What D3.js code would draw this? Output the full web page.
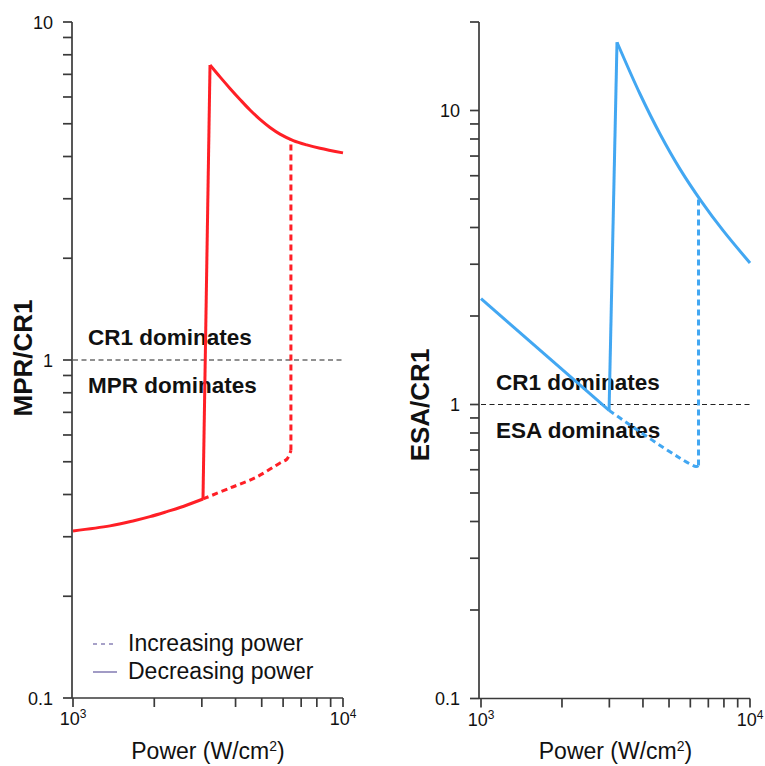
<!DOCTYPE html>
<html><head><meta charset="utf-8">
<script src="https://cdn.jsdelivr.net/npm/d3@7/dist/d3.min.js"></script>
<style>body{margin:0;background:#fff}svg{display:block}text{font-family:"Liberation Sans",Arial,Helvetica,sans-serif}</style>
</head><body>
<svg id="c" width="765" height="766"></svg>
<script>
// ---- data (power in W/cm², ratio) ----
const mprDecLow = [[1000,0.312],[1371,0.323],[1668,0.334],[1928,0.344],[2228,0.356],[2489,0.366],[3030,0.388]];
const mprDecHigh = [[3217,7.46],[3503,6.88],[3815,6.36],[4155,5.90],[4524,5.49],[4927,5.15],[5365,4.875],[5843,4.66],[6544,4.46],[7337,4.33],[8218,4.23],[10000,4.10]];
const mprInc = [[3030,0.388],[3811,0.418],[4797,0.451],[5845,0.496],[6200,0.509],[6413,0.54],[6413,4.49]];
const esaDecLow = [[1000,2.29],[2993,0.955]];
const esaDecHigh = [[3203,17.07],[3901,11.38],[4629,8.32],[5494,6.32],[6574,4.93],[7935,3.91],[10000,3.03]];
const esaInc = [[2993,0.955],[6300,0.615],[6436,0.62],[6436,5.0]];
const xTicks = [1000,2000,3000,4000,5000,6000,7000,8000,9000,10000];
const xLabels = [[1000,"10","3"],[10000,"10","4"]];
const yTicks = [0.1,0.2,0.3,0.4,0.5,0.6,0.7,0.8,0.9,1,2,3,4,5,6,7,8,9,10,20];
const yLabels = [0.1,1,10];
const legendItems = [["Increasing power",true],["Decreasing power",false]];

const svg = d3.select("#c");
const AXC = "#3a3a3a";
const TK = 9;

function panel(o){
  const x = d3.scaleLog().domain([1000,10000]).range([o.x0,o.x1]);
  const y = d3.scaleLog().domain(o.ydom).range([o.yb,o.yt]);
  const g = svg.append("g");
  // x axis
  g.append("line").attr("x1",o.ax).attr("x2",x(10000)).attr("y1",o.yb).attr("y2",o.yb)
    .attr("stroke",AXC).attr("stroke-width",1.7);
  g.selectAll(".xt").data(xTicks).join("line").attr("class","xt")
    .attr("x1",d=>x(d)).attr("x2",d=>x(d)).attr("y1",o.yb).attr("y2",o.yb+TK)
    .attr("stroke",AXC).attr("stroke-width",1.7);
  xLabels.forEach(([v,b,e])=>{
    const t = g.append("text").attr("x",x(v)).attr("y",o.yb+27).attr("text-anchor","middle")
      .attr("font-size",18).attr("fill","#111");
    t.append("tspan").text(b);
    t.append("tspan").attr("dy",-7).attr("font-size",12).text(e);
  });
  // y axis
  g.append("line").attr("x1",o.ax).attr("x2",o.ax).attr("y1",o.yb).attr("y2",y(o.ydom[1]))
    .attr("stroke",AXC).attr("stroke-width",1.7);
  g.selectAll(".yt").data(yTicks.filter(v=>v<=o.ydom[1])).join("line").attr("class","yt")
    .attr("x1",o.ax-TK).attr("x2",o.ax).attr("y1",d=>y(d)).attr("y2",d=>y(d))
    .attr("stroke",AXC).attr("stroke-width",1.7);
  yLabels.forEach(v=>{
    g.append("text").attr("x",o.ax-19).attr("y",y(v)+6.5).attr("text-anchor","end")
      .attr("font-size",18).attr("fill","#111").text(v);
  });
  // titles
  const xt = g.append("text").attr("x",(o.x0+o.x1)/2).attr("y",759).attr("text-anchor","middle")
    .attr("font-size",23).attr("fill","#111");
  xt.append("tspan").text("Power (W/cm");
  xt.append("tspan").attr("dy",-8).attr("font-size",14).text("2");
  xt.append("tspan").attr("dy",8).text(")");
  g.append("text").attr("transform",`translate(${o.ytx},${o.yty}) rotate(-90)`).attr("text-anchor","middle")
    .attr("font-size",26).attr("font-weight","bold").attr("fill","#111").text(o.ytitle);
  // reference line at 1
  g.append("line").attr("x1",x(1000)).attr("x2",x(10000)).attr("y1",y(1)).attr("y2",y(1))
    .attr("stroke","#222").attr("stroke-width",1.2).attr("stroke-dasharray","5,3.5");
  g.append("text").attr("x",o.x0+15).attr("y",y(1)-15).attr("font-size",22.5).attr("font-weight","bold").attr("fill","#111").text("CR1 dominates");
  g.append("text").attr("x",o.x0+15).attr("y",y(1)+33).attr("font-size",22.5).attr("font-weight","bold").attr("fill","#111").text(o.below);
  // curves
  const lineS = d3.line().x(d=>x(d[0])).y(d=>y(d[1])).curve(d3.curveCatmullRom.alpha(0.5));
  const lineL = d3.line().x(d=>x(d[0])).y(d=>y(d[1]));
  const add = (data,gen,dash)=>g.append("path").attr("d",gen(data)).attr("fill","none")
    .attr("stroke",o.color).attr("stroke-width",3).attr("stroke-linejoin","round")
    .attr("stroke-dasharray",dash?"6,4":null);
  add(o.inc.slice(0,-1),lineS,true);
  add(o.inc.slice(-2),lineL,true);
  add(o.low,lineS,false);
  add([o.low[o.low.length-1],o.high[0]],lineL,false);
  add(o.high,lineS,false);
}

panel({x0:73,x1:343,ax:72,yb:698,yt:22,ydom:[0.1,10],color:"#ff1f26",
  low:mprDecLow,high:mprDecHigh,inc:mprInc,ytitle:"MPR/CR1",ytx:32,yty:358,below:"MPR dominates"});
panel({x0:481,x1:750,ax:479,yb:698.5,yt:22,ydom:[0.1,20],color:"#42a7f2",
  low:esaDecLow,high:esaDecHigh,inc:esaInc,ytitle:"ESA/CR1",ytx:429,yty:405,below:"ESA dominates"});

// legend
const lg = svg.append("g");
legendItems.forEach(([lab,dashed],i)=>{
  const yy = 644 + i*28;
  lg.append("line").attr("x1",93).attr("x2",117).attr("y1",yy).attr("y2",yy)
    .attr("stroke","#8a82b6").attr("stroke-width",1.6).attr("stroke-dasharray",dashed?"4,4":null);
  lg.append("text").attr("x",128).attr("y",yy+7).attr("font-size",23).attr("fill","#111").text(lab);
});
</script>
</body></html>
